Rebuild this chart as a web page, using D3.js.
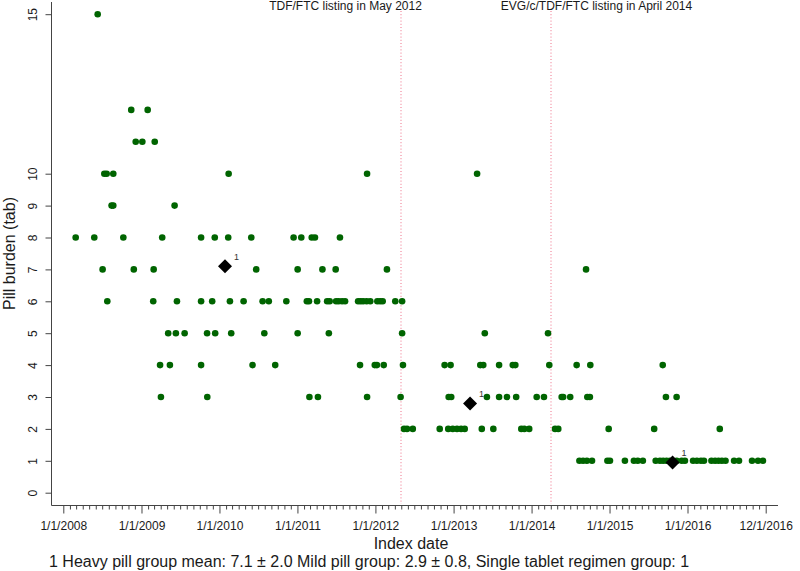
<!DOCTYPE html>
<html>
<head>
<meta charset="utf-8">
<script src="https://cdn.jsdelivr.net/npm/d3@7"></script>
<style>
  body { margin: 0; background: #fff; }
  svg { font-family: "Liberation Sans", Arial, sans-serif; }
</style>
</head>
<body>
<div id="chart"></div>
<script>
// pill burden (tablets) -> index dates of patients
const tab15 = ['2008-06-10']
const tab12 = ['2008-11-14', '2009-01-30']
const tab11 = ['2008-12-05', '2009-01-05', '2009-03-04']
const tab10 = ['2008-07-11', '2008-07-22', '2008-08-22', '2010-02-13', '2011-11-23', '2013-04-21']
const tab9 = ['2008-08-14', '2008-08-22', '2009-06-05']
const tab8 = ['2008-02-28', '2008-05-25', '2008-10-08', '2009-04-08', '2009-10-07', '2009-12-10',
  '2010-02-11', '2010-05-30', '2010-12-14', '2011-01-19', '2011-03-09', '2011-03-24', '2011-07-19']
const tab7 = ['2008-07-03', '2008-11-26', '2009-02-27', '2010-06-22', '2011-01-02', '2011-04-28',
  '2011-06-29', '2012-02-24', '2014-09-13']
const tab6 = ['2008-07-25', '2009-02-25', '2009-06-16', '2009-10-07', '2009-11-28', '2010-02-19',
  '2010-04-24', '2010-07-22', '2010-08-20', '2010-11-10', '2011-02-14', '2011-02-24', '2011-04-03',
  '2011-05-20', '2011-06-01', '2011-07-01', '2011-07-13', '2011-07-29', '2011-08-12', '2011-10-12',
  '2011-10-24', '2011-11-05', '2011-11-21', '2011-12-08', '2012-01-10', '2012-01-23', '2012-02-04',
  '2012-04-03', '2012-05-05']
const tab5 = ['2009-05-06', '2009-06-11', '2009-07-22', '2009-11-04', '2009-12-12', '2010-02-25',
  '2010-07-30', '2011-01-02', '2011-05-28', '2012-05-05', '2013-05-27', '2014-03-19']
const tab4 = ['2009-03-29', '2009-05-14', '2009-10-07', '2010-06-05', '2010-09-19', '2011-10-21',
  '2011-12-29', '2012-01-08', '2012-02-09', '2012-05-09', '2012-11-20', '2012-12-18', '2013-05-06',
  '2013-05-20', '2013-08-02', '2013-10-05', '2013-10-17', '2014-03-25', '2014-07-31', '2014-10-03',
  '2015-09-07']
const tab3 = ['2009-04-02', '2009-11-05', '2011-02-26', '2011-04-07', '2011-11-23', '2012-04-28',
  '2012-12-09', '2012-12-21', '2013-06-06', '2013-08-02', '2013-09-08', '2013-10-21', '2014-01-25',
  '2014-02-28', '2014-05-22', '2014-05-29', '2014-07-01', '2014-09-19', '2014-10-01', '2015-09-22',
  '2015-11-11']
const tab2 = ['2012-05-14', '2012-05-28', '2012-06-24', '2012-10-28', '2012-12-07', '2012-12-28',
  '2013-01-17', '2013-02-05', '2013-02-22', '2013-05-13', '2013-07-06', '2013-11-14', '2013-11-28',
  '2013-12-21', '2014-04-21', '2014-05-06', '2014-12-28', '2015-07-29', '2016-05-31']
const tab1 = ['2014-08-13', '2014-08-30', '2014-09-17', '2014-10-11', '2014-12-22', '2015-01-03',
  '2015-03-14', '2015-04-25', '2015-05-13', '2015-06-06', '2015-08-05', '2015-08-25', '2015-09-09',
  '2015-09-25', '2015-10-11', '2015-11-11', '2015-12-05', '2015-12-20', '2016-01-27', '2016-02-14',
  '2016-03-04', '2016-03-18', '2016-04-22', '2016-05-09', '2016-05-25', '2016-06-10', '2016-06-27',
  '2016-08-06', '2016-08-29', '2016-10-29', '2016-11-26', '2016-12-19']

// group means (diamonds)
const meanDates = ['2010-01-27', '2013-03-19', '2015-10-23']
const meanValues = [7.1, 2.8, 0.95]

// drug listing events
const eventDates = ['2012-05-01', '2014-04-01']
const eventLabels = ['TDF/FTC listing in May 2012', 'EVG/c/TDF/FTC listing in April 2014']

// axes
const xTickDates = ['2008-01-01', '2009-01-01', '2010-01-01', '2011-01-01', '2012-01-01',
  '2013-01-01', '2014-01-01', '2015-01-01', '2016-01-01', '2017-01-01']
const xTickLabels = ['1/1/2008', '1/1/2009', '1/1/2010', '1/1/2011', '1/1/2012',
  '1/1/2013', '1/1/2014', '1/1/2015', '1/1/2016', '12/1/2016']
const yTicks = [0, 1, 2, 3, 4, 5, 6, 7, 8, 9, 10, 15]

const footnote = '1 Heavy pill group mean: 7.1 \u00b1 2.0 Mild pill group: 2.9 \u00b1 0.8, Single tablet regimen group: 1'

const width = 800
const height = 571
const parse = d3.timeParse('%Y-%m-%d')

const rows = [[15, tab15], [12, tab12], [11, tab11], [10, tab10], [9, tab9], [8, tab8], [7, tab7],
  [6, tab6], [5, tab5], [4, tab4], [3, tab3], [2, tab2], [1, tab1]]
const points = []
rows.forEach(([v, dates]) => dates.forEach(d => points.push({ date: parse(d), value: v })))

const plotLeft = 51, plotRight = 778, plotTop = 2, plotBottom = 505

const x = d3.scaleTime()
  .domain([parse(xTickDates[0]), parse(xTickDates[xTickDates.length - 1])])
  .range([63.3, 765.7])
const y = d3.scaleLinear().domain([0, 15]).range([492.7, 14.2])

const svg = d3.select('#chart').append('svg')
  .attr('width', width)
  .attr('height', height)

// event lines
svg.append('g').selectAll('line')
  .data(eventDates)
  .join('line')
    .attr('x1', d => Math.round(x(parse(d))))
    .attr('x2', d => Math.round(x(parse(d))))
    .attr('y1', 11)
    .attr('y2', plotBottom - 1)
    .attr('stroke', '#ee7088')
    .attr('stroke-width', 1)
    .attr('stroke-dasharray', '1,2.2')

const labelX = [345.5, 596.5]
svg.append('g').selectAll('text')
  .data(eventLabels)
  .join('text')
    .attr('x', (d, i) => labelX[i])
    .attr('y', 9.5)
    .attr('text-anchor', 'middle')
    .attr('font-size', 12)
    .attr('fill', '#1a1a1a')
    .text(d => d)

// L-shaped frame
svg.append('path')
  .attr('d', `M${plotLeft + 0.5},${plotTop}V${plotBottom + 0.5}H${plotRight}`)
  .attr('fill', 'none')
  .attr('stroke', '#444')
  .attr('stroke-width', 1)

// x axis: yearly majors and monthly minors
const monthTicks = d3.timeMonth.range(parse(xTickDates[0]), parse(xTickDates[xTickDates.length - 1]))
  .filter(d => d.getMonth() !== 0)

const xMinor = svg.append('g')
  .attr('transform', `translate(0,${plotBottom + 0.5})`)
  .call(d3.axisBottom(x).tickValues(monthTicks).tickSize(4).tickFormat(''))
xMinor.select('.domain').remove()
xMinor.selectAll('line').attr('stroke', '#444')

const xMajor = svg.append('g')
  .attr('transform', `translate(0,${plotBottom + 0.5})`)
  .call(d3.axisBottom(x)
    .tickValues(xTickDates.map(parse))
    .tickSize(8)
    .tickPadding(8)
    .tickFormat((d, i) => xTickLabels[i]))
xMajor.select('.domain').remove()
xMajor.selectAll('line').attr('stroke', '#444')
xMajor.selectAll('text')
  .attr('font-size', 12)
  .attr('font-family', '"Liberation Sans", Arial, sans-serif')
  .attr('fill', '#1a1a1a')

// y axis
const yAxis = svg.append('g')
  .attr('transform', `translate(${plotLeft + 0.5},0)`)
  .call(d3.axisLeft(y).tickValues(yTicks).tickSize(6).tickFormat(d3.format('d')))
yAxis.select('.domain').remove()
yAxis.selectAll('line').attr('stroke', '#444')
yAxis.selectAll('text')
  .attr('font-size', 12)
  .attr('font-family', '"Liberation Sans", Arial, sans-serif')
  .attr('fill', '#1a1a1a')
  .attr('x', null)
  .attr('dy', null)
  .attr('text-anchor', 'middle')
  .attr('transform', 'translate(-14.5,0) rotate(-90)')

// points
svg.append('g').selectAll('circle')
  .data(points)
  .join('circle')
    .attr('cx', d => x(d.date))
    .attr('cy', d => y(d.value))
    .attr('r', 3.3)
    .attr('fill', '#006400')

// group means
const means = meanDates.map((d, i) => ({ date: parse(d), value: meanValues[i] }))
const mg = svg.append('g').selectAll('g')
  .data(means)
  .join('g')
    .attr('transform', d => `translate(${x(d.date)},${y(d.value)})`)
mg.append('path')
  .attr('d', 'M0,-7L7,0L0,7L-7,0Z')
  .attr('fill', '#000')
mg.append('text')
  .attr('x', 9)
  .attr('y', -6)
  .attr('font-size', 9)
  .attr('fill', '#333')
  .text('1')

// titles
svg.append('text')
  .attr('x', 411)
  .attr('y', 548.5)
  .attr('text-anchor', 'middle')
  .attr('font-size', 16)
  .attr('fill', '#1a1a1a')
  .text('Index date')

svg.append('text')
  .attr('transform', `translate(14.5,${(plotTop + plotBottom) / 2}) rotate(-90)`)
  .attr('text-anchor', 'middle')
  .attr('font-size', 16)
  .attr('fill', '#1a1a1a')
  .text('Pill burden (tab)')

svg.append('text')
  .attr('x', 49)
  .attr('y', 567)
  .attr('font-size', 16)
  .attr('fill', '#1a1a1a')
  .text(footnote)
</script>
</body>
</html>
